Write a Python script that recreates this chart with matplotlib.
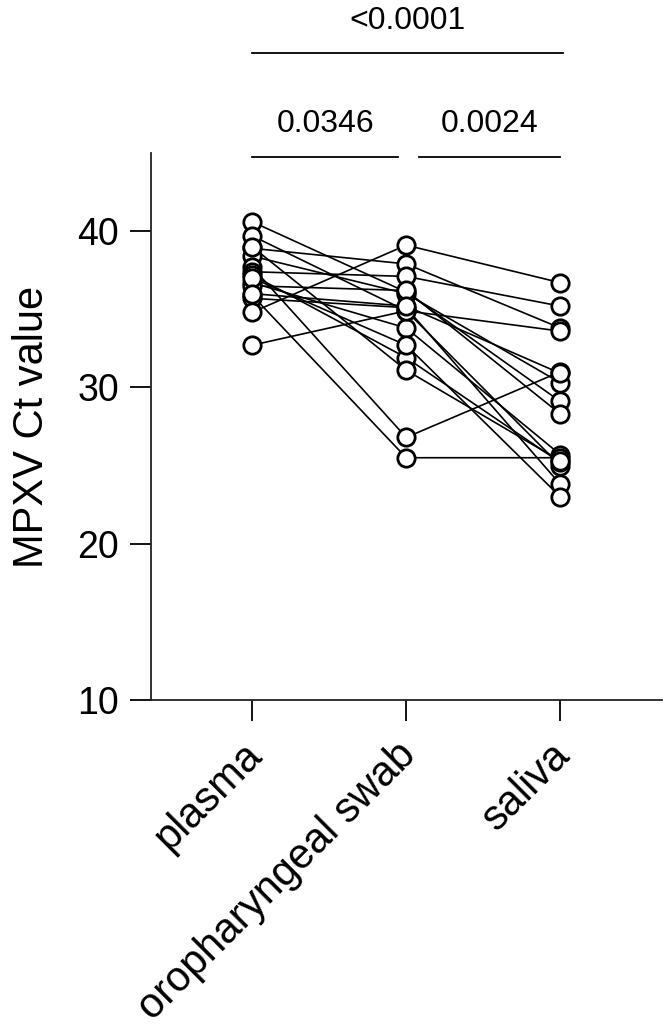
import matplotlib
matplotlib.use("Agg")
import matplotlib.pyplot as plt
import matplotlib.transforms as mtransforms
import numpy as np

plt.rcParams.update({
    "font.family": ["Liberation Sans", "DejaVu Sans"],
    "axes.edgecolor": "#222222",
    "axes.linewidth": 1.3,
})

groups = ["plasma", "oropharyngeal swab", "saliva"]

# paired Ct values per patient (plasma, oropharyngeal swab, saliva)
plasma = [40.6, 39.7, 38.9, 38.4, 37.7, 37.4, 37.2, 36.7, 36.5, 35.9, 35.7, 34.8, 32.7, 37.0, 39.0, 36.0]
oro_swab = [36.1, 34.9, 37.9, 36.0, 26.8, 37.1, 31.9, 33.8, 36.2, 25.5, 35.1, 39.1, 34.9, 32.7, 31.1, 35.2]
saliva = [29.1, 25.0, 33.8, 30.3, 31.0, 35.2, 25.2, 25.7, 28.3, 25.5, 23.8, 36.7, 33.6, 23.0, 25.3, 30.9]

comparisons = [(0, 1, "0.0346"), (1, 2, "0.0024"), (0, 2, "<0.0001")]

fig = plt.figure(figsize=(6.66, 10.3), dpi=100)
ax = fig.add_axes([0.2267, 0.3204, 0.7673, 0.5311])

x = np.arange(len(groups))
for p, o, s in zip(plasma, oro_swab, saliva):
    ax.plot(x, [p, o, s], color="black", lw=1.2, zorder=2)
for i, vals in enumerate([plasma, oro_swab, saliva]):
    ax.plot(np.full(len(vals), x[i]), vals, ls="none", marker="o", ms=12.5,
            mfc="white", mec="black", mew=2.0, zorder=3)

ax.set_xlim(-0.656, 2.66)
ax.set_ylim(10, 45)
ax.set_yticks([10, 20, 30, 40])
ax.set_xticks(x)
ax.set_xticklabels([])
ax.tick_params(axis="y", labelsize=27, length=15, width=1.3, pad=8)
ax.tick_params(axis="x", length=15, width=1.3)
ax.set_ylabel("MPXV Ct value", fontsize=30, labelpad=18)
for side in ["top", "right"]:
    ax.spines[side].set_visible(False)

# rotated category labels, placed by hand so they sit like the original
lab_trans = ax.get_xaxis_transform() + mtransforms.ScaledTranslation(-0.10, -0.35, fig.dpi_scale_trans)
for xi, g in zip(x, groups):
    ax.text(xi, 0, g, transform=lab_trans, rotation=45, ha="right", va="top",
            rotation_mode="anchor", fontsize=30, clip_on=False)

# significance brackets
bar_y = {"0.0346": 44.73, "0.0024": 44.73, "<0.0001": 51.39}
txt_y = {"0.0346": 46.85, "0.0024": 46.85, "<0.0001": 53.45}
for a, b, lab in comparisons:
    x0 = a if a == 0 else a + 0.08
    x1 = b if b == 2 else b - 0.05
    if lab == "<0.0001":
        x0, x1 = 0.0, 2.02
    ax.plot([x0, x1], [bar_y[lab], bar_y[lab]], color="black", lw=1.3, clip_on=False)
    ax.text((x0 + x1) / 2, txt_y[lab], lab, ha="center", va="center", fontsize=23, clip_on=False)

fig.savefig("out.png", dpi=100)
